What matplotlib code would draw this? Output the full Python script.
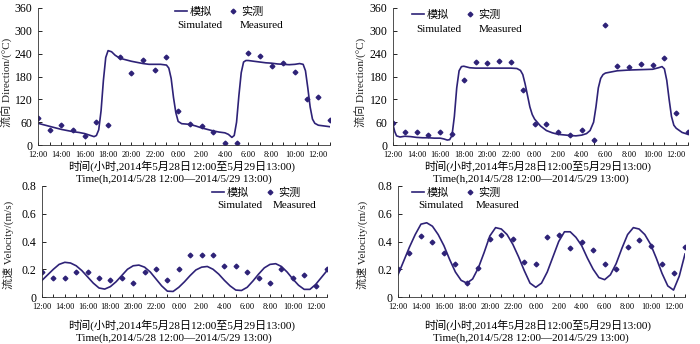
import numpy as np
import matplotlib
matplotlib.use("Agg")
import matplotlib.pyplot as plt
from matplotlib.ticker import MultipleLocator

plt.rcParams['font.family'] = ['Liberation Serif', 'Noto Sans CJK SC']
plt.rcParams['axes.unicode_minus'] = False

NAVY = '#2E2277'

# 时刻 (小时, 从 5/28 12:00 起)
hours = list(range(26))
tick_labels = ['12:00', '14:00', '16:00', '18:00', '20:00', '22:00', '0:00',
               '2:00', '4:00', '6:00', '8:00', '10:00', '12:00']

# 流向 实测 (左上 / 右上)
dir_meas_a = [70, 39, 52, 39, 24, 60, 52, 231, 190, 223, 198, 231, 90,
              54, 50, 33, 5, 4, 243, 234, 207, 215, 192, 121, 126, 65]
dir_meas_b = [57, 33, 35, 26, 33, 29, 170, 217, 215, 220, 218, 144, 54,
              56, 35, 25, 40, 13, 316, 208, 206, 214, 211, 228, 83, 34]

# 流向 模拟
dir_sim_a_t = [0, 0.5, 1, 1.5, 2, 2.5, 3, 3.5, 4, 4.5, 4.8, 5, 5.2, 5.4, 5.6, 5.8,
               6, 6.3, 6.6, 7, 7.5, 8, 8.5, 9, 9.5, 10, 10.5, 11, 11.2, 11.4, 11.6,
               11.8, 12, 12.3, 12.7, 13, 13.5, 14, 14.5, 15, 15.5, 16, 16.3, 16.6,
               16.8, 17, 17.2, 17.4, 17.6, 17.8, 18, 18.5, 19, 19.5, 20, 20.5, 21,
               21.5, 22, 22.4, 22.7, 22.9, 23.1, 23.3, 23.5, 23.7, 24, 24.5, 25]
dir_sim_a = [57, 53, 49, 45, 41, 38, 35, 33, 30, 25, 22, 25, 40, 90, 170, 230,
             248, 245, 236, 228, 224, 220, 217, 214, 212, 212, 212, 210, 202, 175, 125,
             85, 62, 56, 55, 54, 50, 45, 41, 37, 34, 32, 28, 20,
             25, 60, 130, 190, 218, 222, 222, 220, 218, 216, 215, 213, 212,
             211, 212, 214, 212, 195, 150, 100, 68, 57, 52, 50, 48]

dir_sim_b_t = [0, 0.15, 0.3, 0.6, 1, 1.5, 2, 2.5, 3, 3.5, 4, 4.3, 4.6, 4.8, 5, 5.2,
               5.4, 5.6, 5.8, 6, 6.5, 7, 8, 9, 10, 10.5, 10.8, 11, 11.2, 11.4, 11.6,
               11.8, 12, 12.5, 13, 13.5, 14, 15, 15.5, 16, 16.4, 16.7, 17, 17.2, 17.4,
               17.6, 17.8, 18, 18.5, 19, 20, 21, 22, 22.5, 22.8, 23, 23.2, 23.4, 23.6,
               23.8, 24, 24.5, 25]
dir_sim_b = [53, 35, 24, 21, 23, 22, 20, 19, 19, 18, 18, 16, 13, 14, 25, 75,
             150, 195, 206, 207, 203, 202, 202, 202, 202, 201, 196, 185, 160, 130, 100,
             80, 68, 50, 38, 32, 28, 25, 24, 26, 30, 38, 60, 100, 150,
             175, 185, 189, 192, 195, 197, 198, 199, 203, 206, 200, 170, 120, 75,
             52, 44, 33, 28]

# 流速 实测
vel_meas_a = [0.18, 0.14, 0.14, 0.18, 0.18, 0.14, 0.12, 0.14, 0.10, 0.18, 0.20, 0.12, 0.20,
              0.30, 0.30, 0.30, 0.22, 0.22, 0.18, 0.14, 0.10, 0.20, 0.14, 0.16, 0.08, 0.20]
vel_meas_b = [0.20, 0.32, 0.44, 0.40, 0.32, 0.24, 0.10, 0.21, 0.42, 0.45, 0.42, 0.25, 0.24,
              0.43, 0.45, 0.35, 0.40, 0.34, 0.24, 0.20, 0.36, 0.41, 0.37, 0.24, 0.17, 0.36]

# 流速 模拟 (半小时)
half_t = [i * 0.5 for i in range(51)]
vel_sim_a = [0.12, 0.16, 0.20, 0.235, 0.25, 0.245, 0.225, 0.19, 0.145, 0.10, 0.065, 0.057,
             0.075, 0.11, 0.155, 0.20, 0.225, 0.23, 0.215, 0.18, 0.13, 0.08, 0.042, 0.04,
             0.07, 0.11, 0.155, 0.195, 0.215, 0.22, 0.20, 0.165, 0.12, 0.08, 0.05, 0.047,
             0.07, 0.115, 0.165, 0.21, 0.235, 0.24, 0.22, 0.18, 0.13, 0.085, 0.055, 0.055,
             0.09, 0.14, 0.19]
vel_sim_b = [0.16, 0.26, 0.36, 0.45, 0.525, 0.535, 0.51, 0.45, 0.37, 0.27, 0.18, 0.12,
             0.10, 0.13, 0.21, 0.32, 0.44, 0.50, 0.49, 0.45, 0.38, 0.29, 0.19, 0.10,
             0.07, 0.10, 0.18, 0.29, 0.40, 0.47, 0.47, 0.43, 0.37, 0.28, 0.20, 0.14,
             0.125, 0.16, 0.24, 0.35, 0.45, 0.50, 0.49, 0.45, 0.38, 0.28, 0.17, 0.08,
             0.05, 0.15, 0.31]

W, H = 700, 344
fig = plt.figure(figsize=(7, 3.44), dpi=100)


def px_ax(l, r, t, b):
    return fig.add_axes([l / W, 1 - b / H, (r - l) / W, (b - t) / H])


def fx(x):
    return x / W


def fy(y):
    return 1 - y / H


def style(ax, ymax, ystep, yfmt):
    ax.set_xlim(0, 25)
    ax.set_ylim(0, ymax)
    ax.xaxis.set_minor_locator(MultipleLocator(1))
    ax.set_xticks(range(0, 25, 2))
    ax.set_xticklabels(tick_labels, fontsize=6)
    ax.yaxis.set_major_locator(MultipleLocator(ystep))
    ax.yaxis.set_major_formatter(yfmt)
    ax.tick_params(axis='y', labelsize=8.5, direction='in', length=3, width=0.6, pad=4)
    ax.tick_params(axis='x', which='both', direction='in', length=2.5, width=0.6, pad=4.5)
    for s in ['top', 'right']:
        ax.spines[s].set_visible(False)
    for s in ['left', 'bottom']:
        ax.spines[s].set_linewidth(0.6)
        ax.spines[s].set_color('#333333')


def legend(ax, hx, hy, ex1, ex2, ey):
    ax.legend(loc='upper left', bbox_to_anchor=(fx(hx), fy(hy)),
              bbox_transform=fig.transFigure, ncol=2, frameon=False, fontsize=8,
              handlelength=1.1, handletextpad=0.2, columnspacing=1.4, borderpad=0,
              borderaxespad=0)
    fig.text(fx(ex1), fy(ey), 'Simulated', fontsize=8, va='center', ha='left')
    fig.text(fx(ex2), fy(ey), 'Measured', fontsize=8, va='center', ha='left')


fmt_int = plt.FuncFormatter(lambda v, p: '%d' % v)
fmt_vel = plt.FuncFormatter(lambda v, p: '0' if v == 0 else '%.1f' % v)

panels = [
    (px_ax(38, 330, 8, 145), dir_sim_a_t, dir_sim_a, dir_meas_a, 360, 60, fmt_int,
     (175, 7, 177, 240, 26)),
    (px_ax(393, 688, 8, 145), dir_sim_b_t, dir_sim_b, dir_meas_b, 360, 60, fmt_int,
     (412, 10, 416, 479, 29)),
    (px_ax(42, 327, 186, 297), half_t, vel_sim_a, vel_meas_a, 0.8, 0.2, fmt_vel,
     (212, 188, 217, 273, 206)),
    (px_ax(398, 685, 186, 297), half_t, vel_sim_b, vel_meas_b, 0.8, 0.2, fmt_vel,
     (412, 188, 418, 476, 206)),
]

for ax, st, sv, mv, ymax, ystep, yf, lg in panels:
    ax.plot(st, sv, color=NAVY, lw=1.2, label='模拟')
    ax.plot(hours, mv, ls='none', marker='D', ms=2.4, color=NAVY, label='实测')
    style(ax, ymax, ystep, yf)
    legend(ax, *lg)

# 坐标轴标题
fig.text(fx(7), fy(82), '流向 Direction/(°C)', rotation=90, fontsize=8, ha='center', va='center', color='#222222')
fig.text(fx(361), fy(82), '流向 Direction/(°C)', rotation=90, fontsize=8, ha='center', va='center', color='#222222')
fig.text(fx(8), fy(245), '流速 Velocity/(m/s)', rotation=90, fontsize=8, ha='center', va='center', color='#222222')
fig.text(fx(362), fy(245), '流速 Velocity/(m/s)', rotation=90, fontsize=8, ha='center', va='center', color='#222222')

cn = '时间(小时,2014年5月28日12:00至5月29日13:00)'
en = 'Time(h,2014/5/28 12:00—2014/5/29 13:00)'
for cx, ecx, cy, ey in [(182, 174, 166, 179), (538, 531, 166, 179),
                        (182, 174, 325, 338), (538, 531, 325, 338)]:
    fig.text(fx(cx), fy(cy), cn, fontsize=8, ha='center', va='center')
    fig.text(fx(ecx), fy(ey), en, fontsize=8, ha='center', va='center')

fig.savefig('out.png', dpi=100)
